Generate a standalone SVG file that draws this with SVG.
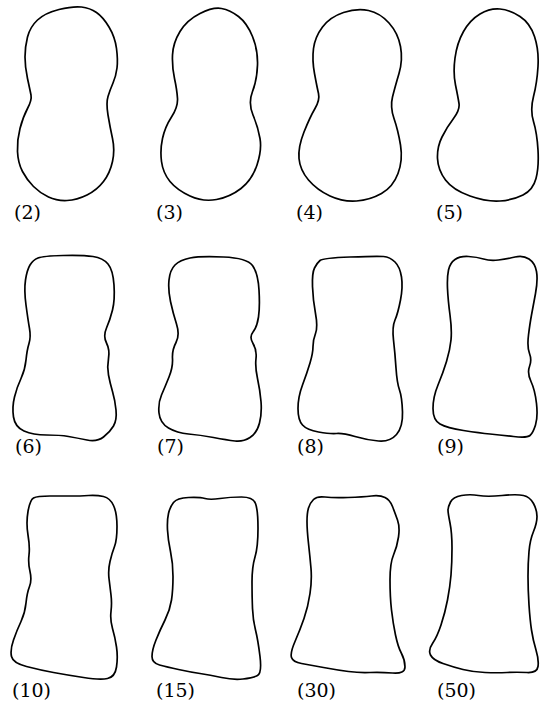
<svg xmlns="http://www.w3.org/2000/svg" width="540" height="705" viewBox="0 0 540 705">
<style>
.o{fill:none;stroke:#000;stroke-width:1.7;stroke-linejoin:round}
.l{font-family:"DejaVu Serif","Liberation Serif",serif;font-size:19px;fill:#000}
</style>
<rect width="540" height="705" fill="#fff"/>
<g id="s2"><path class="o" d="M59,9.5 Q73,6 81.5,7 T96.5,12.5 T109,27 T116.5,48.5 T117,68 T113,83 T108,96.5 T108,115 T112.5,138.5 T112.5,161.5 T103.5,181.5 T87,195 T67,200.5 T48.5,197 T33.5,186.5 T22.5,171.5 T17.5,151.5 T20,128.5 T27.5,108.5 T31,95 T27.5,78.5 T25,57 T27.5,37 T37.5,20 T59,9.5 Z"/><text class="l" x="14" y="219">(2)</text></g>
<g id="s3"><path class="o" d="M200,13.5 Q213,7 221.5,8.5 T238.5,16.5 T252.5,36.5 T257.5,65 T252.5,91.5 T253,115 T260,138.5 T257,165 T241,188.5 T216.5,199.5 T190,196 T170,181.5 T161.5,161.5 T162.5,138.5 T171.5,117 T177.5,98.5 T174.5,78.5 T172.5,55 T180,31.5 T200,13.5 Z"/><text class="l" x="156" y="219">(3)</text></g>
<g id="s4"><path class="o" d="M343.5,12.5 Q357,8 368.5,10.5 T389,23 T400.5,46.5 T399,73.5 T392.5,97 T394,118.5 T400.5,145 T398,173.5 T381.5,193.5 T356.5,201 T330,196 T308.5,180 T299,158.5 T304,132 T315,108.5 T318.5,93.5 T314.5,73.5 T313.5,48.5 T322.5,27 T343.5,12.5 Z"/><text class="l" x="296" y="219">(4)</text></g>
<g id="s5"><path class="o" d="M480,14 Q490,8 500,9 T520,16.5 T534.5,36.5 T538,66.5 T533.5,96.5 T533.5,121.5 T538,150 T536,178.5 T523,195 T500,201 T470,196 T445.5,180 T437.5,158.5 T442,137 T453.5,118.5 T459,103.5 T455.5,85 T455,58 T463.5,31.5 T480,14 Z"/><text class="l" x="436" y="219">(5)</text></g>
<g id="s6"><path class="o" d="M30,265 Q33,260 38,258 T63,255.5 T93,256.5 T108,264 T114,285 T112.5,310 T106.5,328 T106.5,343 T108.5,358.5 T108.5,375 T112.5,391.5 T116,410 T113.5,426 T103.5,437 T87,440 T68.5,436.5 T46.5,435 T24,431 T13.5,417 T14.5,397 T21,378.5 T26,360 T29,343.5 T29.5,328.5 T26,305 T25.5,280 T30,265 Z"/><text class="l" x="15" y="453">(6)</text></g>
<g id="s7"><path class="o" d="M169,280 Q170,270 175,265 T190,258 T223.5,257 T252.5,265.5 T259,290 T258.5,317 T253,332 T253,343.5 T256,358.5 T257.5,378.5 T261,401.5 T259.5,423 T250,437.5 T235,441 T213.5,437.5 T188.5,434 T168.5,428 T159,413 T161.5,395 T169,377 T172.5,358.5 T176,342.5 T176.5,324 T170.5,301.5 T169,280 Z"/><text class="l" x="157" y="453">(7)</text></g>
<g id="s8"><path class="o" d="M314.5,268 Q317,263 320,260.5 T350,257 T383.5,256.5 T395,262 T401.5,277 T400.5,300 T395,320 T393.5,340 T396,368 T399.5,390 T402.5,412 T396.5,434.5 T378.5,441 T355,436.5 T336.5,433.5 T318.5,432 T302.5,425 T298,408.5 T302.5,385 T310,363 T313,346.5 T315.5,333.5 T315.5,313.5 T312.5,286.5 T314.5,268 Z"/><text class="l" x="297" y="453">(8)</text></g>
<g id="s9"><path class="o" d="M448.5,270 Q450,263 455,259.5 T468.5,256.5 T483.5,259 T498.5,260 T515,257 T529,259 T536.5,271.5 T535.5,293.5 T531.5,315 T528.5,335 T529.5,353.5 T529.5,366.5 T531,381.5 T536.5,403.5 T535.5,425 T530,435.5 T513.5,436.5 T490,434 T463.5,430.5 T440,424 T433,408.5 T438,385 T446.5,361.5 T451,340 T450,315 T447.5,288.5 T448.5,270 Z"/><text class="l" x="437" y="453">(9)</text></g>
<g id="s10"><path class="o" d="M28,511.5 Q30,500 33.5,498 T50,496 T71.5,496 T88.5,495.5 T103.5,496.5 T113.5,505.5 T117,526.5 T114.5,546.5 T110,561.5 T109,578.5 T111,595 T111,611.5 T112.5,628.5 T116.5,647 T116.5,667 T107.5,678.5 T83.5,677.5 T53.5,672.5 T26.5,666.5 T11.5,656.5 T13.5,640 T21,621.5 T26,603 T29.5,586.5 T30,571.5 T29,555 T28,535 T28,511.5 Z"/><text class="l" x="12" y="697">(10)</text></g>
<g id="s15"><path class="o" d="M168.5,513.5 Q170,507 173.5,502.5 T188.5,497.5 T205,498.5 T220,498.5 T241.5,497 T255.5,503.5 T258,528.5 T255,557 T252,582 T252.5,608.5 T255.5,630 T260,656.5 T257.5,675.5 T243,679 T221.5,677.5 T200,673.5 T178.5,669.5 T159.5,665 T152,656.5 T156,640 T165,620 T171.5,600 T173,576.5 T170.5,551.5 T167.5,530 T168.5,513.5 Z"/><text class="l" x="156" y="697">(15)</text></g>
<g id="s30"><path class="o" d="M308.5,508 Q310,503 313.5,499.5 T325,497 T348,497.5 T371.5,496 T385,497.5 T392.5,506.5 T397.5,520 T398.5,537 T393.5,555 T390,580 T391.5,610 T395.5,635 T401.5,653.5 T405,667 T392.5,673 T370,672.5 T348.5,671.5 T323.5,667.5 T301.5,663.5 T291.5,657.5 T295,641.5 T304,618.5 T310,593.5 T311,568.5 T308.5,543.5 T307,521.5 T308.5,508 Z"/><text class="l" x="297" y="697">(30)</text></g>
<g id="s50"><path class="o" d="M448,510 Q448,507 450.5,502 T461.5,495.5 T478.5,495.5 T502,495.5 T523.5,495.5 T533.5,503.5 T537,516.5 T533.5,531.5 T529,551.5 T528,576.5 T529,605 T531.5,630 T536,650 T538,666.5 T527,672.5 T507,672.5 T485,672.5 T463,669.5 T443,663.5 T430.5,655 T432.5,643.5 T441,625 T447.5,600 T451,575 T452,548 T450,523 T448,510 Z"/><text class="l" x="437" y="697">(50)</text></g>
</svg>
